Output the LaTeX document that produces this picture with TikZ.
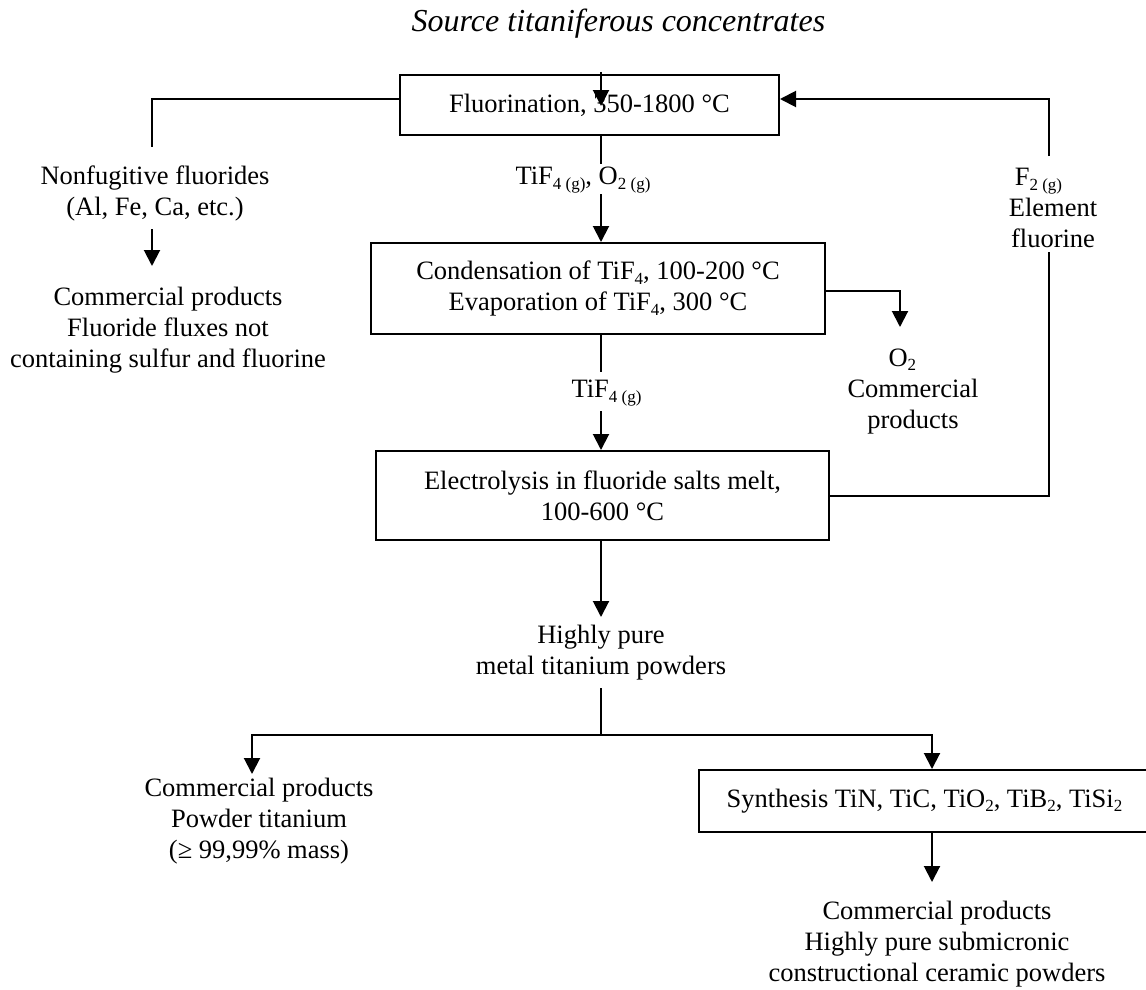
\documentclass[tikz,border=0pt]{standalone}
\usepackage{fontspec}
\setmainfont{Liberation Serif}
\usetikzlibrary{arrows.meta}
\newcommand{\sbs}[1]{\raisebox{-4.5pt}{\fontsize{17}{17}\selectfont #1}}
\begin{document}
\begin{tikzpicture}[x=1pt,y=-1pt,
  font=\fontsize{26.5}{31}\selectfont,
  box/.style={draw, line width=2pt, inner sep=0pt, align=center},
  txt/.style={inner sep=0pt, align=center},
  conn/.style={line width=2pt},
  arr/.style={conn, -{Triangle[length=16pt,width=16pt]}}]
\useasboundingbox (0,0) rectangle (1146,990);

% boxes
\node[box, minimum width=379pt, minimum height=60pt] (fl) at (589.5,105) {Fluorination, 350-1800 °C};
\node[box, minimum width=454pt, minimum height=91pt] (cond) at (598,288.5)
  {Condensation of TiF\sbs{4}, 100-200 °C\\Evaporation of TiF\sbs{4}, 300 °C};
\node[box, minimum width=453pt, minimum height=89pt] (el) at (602.5,495.5)
  {Electrolysis in fluoride salts melt,\\100-600 °C};
\node[box, minimum width=451pt, minimum height=62pt] (syn) at (924.5,801)
  {Synthesis TiN, TiC, TiO\sbs{2}, TiB\sbs{2}, TiSi\sbs{2}};

% text nodes
\node[txt, font=\fontsize{32}{36}\selectfont\itshape] (title) at (618.5,24) {Source titaniferous concentrates};
\node[txt] (lab1) at (583,180) {TiF\sbs{4 (g)}, O\sbs{2 (g)}};
\node[txt] (lab2) at (606.5,393) {TiF\sbs{4 (g)}};
\node[txt] (nf) at (155,193.5) {Nonfugitive fluorides\\(Al, Fe, Ca, etc.)};
\node[txt] (cp1) at (168,330.5) {Commercial products\\Fluoride fluxes not\\containing sulfur and fluorine};
\node[txt] (o2) at (913,391.5) {O\sbs{2}\hspace*{0.8em}\\Commercial\\products};
\node[txt] (f2) at (1053,208) {F\sbs{2 (g)}\hspace*{1.1em}\\Element\\fluorine};
\node[txt] (hp) at (601,652.5) {Highly pure\\metal titanium powders};
\node[txt] (cpl) at (259,821) {Commercial products\\Powder titanium\\(≥ 99,99\% mass)};
\node[txt] (cpr) at (937,944) {Commercial products\\Highly pure submicronic\\constructional ceramic powders};

% named coordinates for free ends and bends
\coordinate (srcTop) at (601,72);
\coordinate (flIn) at (601,106);
\coordinate (flL) at (fl.west |- 0,99);
\coordinate (flR) at (fl.east |- 0,99);
\coordinate (nfBend) at (152,99);
\coordinate (nfTop) at (152,147);
\coordinate (nfBot) at (152,229);
\coordinate (cp1Top) at (152,266);
\coordinate (lab1Top) at (601,164);
\coordinate (lab1Bot) at (601,194);
\coordinate (condOut) at (cond.east |- 0,291);
\coordinate (o2Bend) at (900,291);
\coordinate (o2Top) at (900,327);
\coordinate (lab2Top) at (601,372);
\coordinate (lab2Bot) at (601,411);
\coordinate (fBendLow) at (1049,496);
\coordinate (f2Bot) at (1049,252);
\coordinate (f2Top) at (1049,156);
\coordinate (fBendHigh) at (1049,99);
\coordinate (hpTop) at (601,617);
\coordinate (hpBot) at (601,688);
\coordinate (split) at (601,735);
\coordinate (leftBend) at (252,735);
\coordinate (rightBend) at (932,735);
\coordinate (cplTop) at (252,774);
\coordinate (cprTop) at (932,882);

% connectors
\draw[arr] (srcTop) -- (flIn);
\draw[conn] (flL) -- (nfBend) -- (nfTop);
\draw[arr] (nfBot) -- (cp1Top);
\draw[conn] (fl.south -| lab1Top) -- (lab1Top);
\draw[arr] (lab1Bot) -- (cond.north -| lab1Bot);
\draw[arr] (condOut) -- (o2Bend) -- (o2Top);
\draw[conn] (cond.south -| lab2Top) -- (lab2Top);
\draw[arr] (lab2Bot) -- (el.north -| lab2Bot);
\draw[conn] (el.east |- fBendLow) -- (fBendLow) -- (f2Bot);
\draw[arr] (f2Top) -- (fBendHigh) -- (flR);
\draw[arr] (el.south -| hpTop) -- (hpTop);
\draw[conn] (hpBot) -- (split);
\draw[arr] (split) -- (leftBend) -- (cplTop);
\draw[arr] (split) -- (rightBend) -- (syn.north -| rightBend);
\draw[arr] (syn.south -| cprTop) -- (cprTop);
\end{tikzpicture}
\end{document}
